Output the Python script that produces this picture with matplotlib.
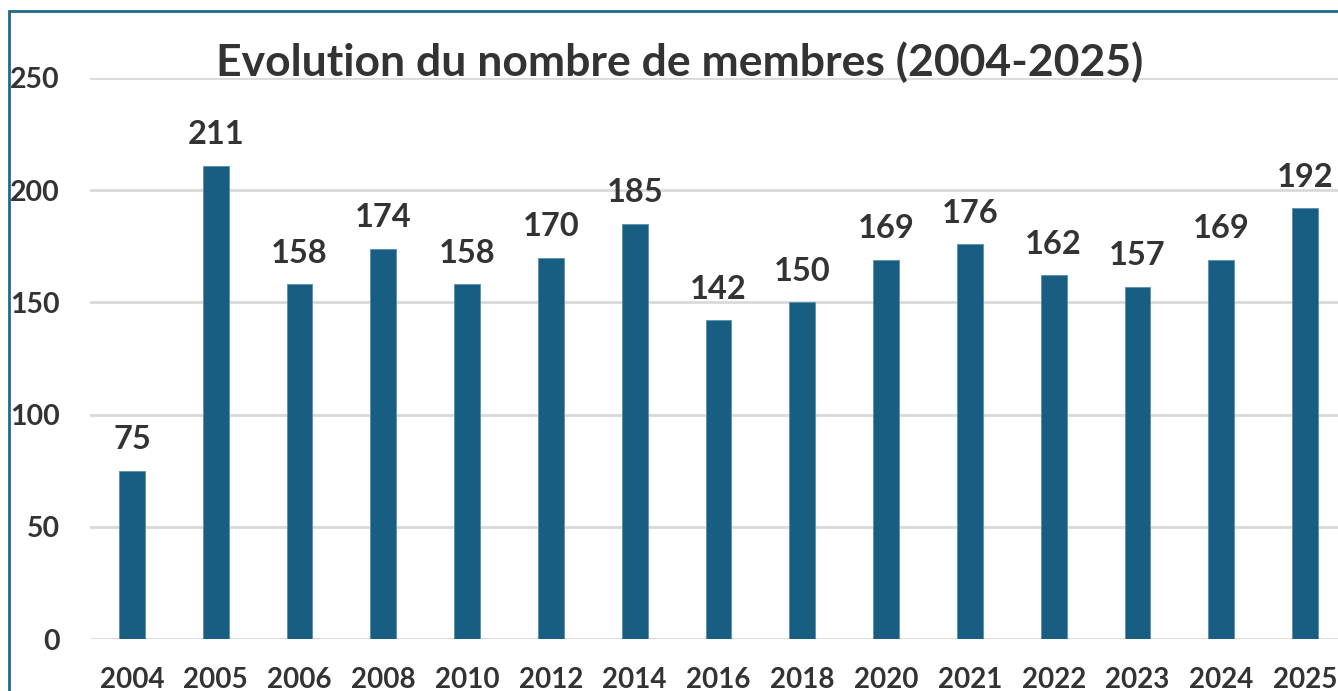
import matplotlib.pyplot as plt
from matplotlib.patches import Rectangle

# data
years = ["2004", "2005", "2006", "2008", "2010", "2012", "2014", "2016",
         "2018", "2020", "2021", "2022", "2023", "2024", "2025"]
members = [75, 211, 158, 174, 158, 170, 185, 142, 150, 169, 176, 162, 157, 169, 192]
yticks = [0, 50, 100, 150, 200, 250]

bar_color = "#175e82"
text_color = "#333333"
plt.rcParams['font.family'] = ['Lato', 'DejaVu Sans']

W, H = 1338, 691
fig = plt.figure(figsize=(W / 100, H / 100), dpi=100)

# plot area runs past the right edge, like the cropped original
left, right, bottom, top = 90, 1347, 639, 78
ax = fig.add_axes([left / W, 1 - bottom / H, (right - left) / W, (bottom - top) / H])

x = list(range(len(years)))
ax.bar(x, members, width=0.31, color=bar_color, edgecolor="#5a8fab", linewidth=0.6, zorder=3)

for xi, v in zip(x, members):
    ax.annotate(str(v), (xi, v), xytext=(0, 15.5), textcoords="offset points",
                ha="center", va="baseline", fontsize=23.5, fontweight="bold", color=text_color)

ax.set_xlim(-0.5, len(years) - 0.5)
ax.set_ylim(0, 250)
ax.set_yticks(yticks)
ax.set_xticks(x)
ax.set_xticklabels(years)
ax.yaxis.grid(True, color="#d9d9d9", linewidth=2, zorder=0)
ax.tick_params(axis="y", length=0, pad=22, labelsize=20.5, labelcolor=text_color)
ax.tick_params(axis="x", length=0, pad=20, labelsize=20, labelcolor=text_color)
for lab in ax.get_xticklabels() + ax.get_yticklabels():
    lab.set_fontweight("bold")
for s in ax.spines.values():
    s.set_visible(False)

fig.text(680 / W, 1 - 62 / H, "Evolution du nombre de membres (2004-2025)",
         ha="center", va="center", fontsize=32, fontweight="bold", color=text_color)

# outer frame of the chart (only left and top edges visible)
fig.patches.append(Rectangle((9 / W, -0.1), 1.2, 1 - 11 / H + 0.1, transform=fig.transFigure,
                             fill=False, edgecolor="#1f6a8c", linewidth=2))

fig.savefig("out.png", dpi=100)
